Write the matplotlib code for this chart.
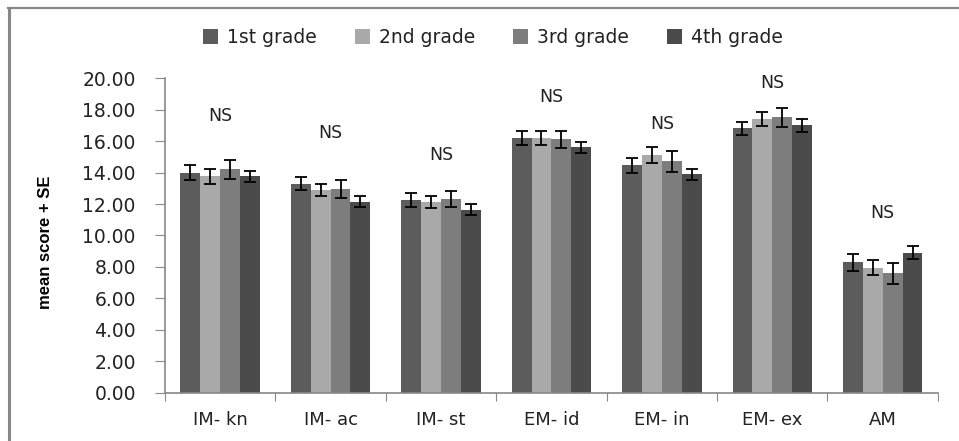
import numpy as np
import matplotlib.pyplot as plt
from matplotlib.lines import Line2D

# mean scores and standard errors per motivation scale and grade
categories = ['IM- kn', 'IM- ac', 'IM- st', 'EM- id', 'EM- in', 'EM- ex', 'AM']
grades = ['1st grade', '2nd grade', '3rd grade', '4th grade']

mean_1st = [14.0, 13.3, 12.25, 16.2, 14.45, 16.8, 8.3]
mean_2nd = [13.75, 12.9, 12.1, 16.2, 15.1, 17.4, 7.95]
mean_3rd = [14.2, 12.95, 12.3, 16.1, 14.7, 17.5, 7.6]
mean_4th = [13.75, 12.15, 11.65, 15.6, 13.9, 17.0, 8.9]

se_1st = [0.48, 0.4, 0.42, 0.45, 0.5, 0.42, 0.55]
se_2nd = [0.47, 0.4, 0.38, 0.45, 0.5, 0.42, 0.47]
se_3rd = [0.6, 0.55, 0.5, 0.55, 0.65, 0.6, 0.65]
se_4th = [0.35, 0.35, 0.35, 0.35, 0.35, 0.4, 0.42]

sig_labels = ['NS'] * 7
sig_y = [17.6, 16.5, 15.1, 18.8, 17.1, 19.7, 11.45]

colors = ['#5c5c5c', '#a9a9a9', '#7d7d7d', '#4b4b4b']

means = [mean_1st, mean_2nd, mean_3rd, mean_4th]
errors = [se_1st, se_2nd, se_3rd, se_4th]

fig = plt.figure(figsize=(9.59, 4.41), dpi=100)
ax = fig.add_axes([0.172, 0.109, 0.806, 0.714])

x = np.arange(len(categories))
width = 0.18
for i, (m, e) in enumerate(zip(means, errors)):
    pos = x + (i - 1.5) * width
    ax.bar(pos, m, width, color=colors[i], label=grades[i], zorder=2)
    ax.errorbar(pos, m, yerr=e, fmt='none', ecolor='black',
                elinewidth=1.3, capsize=4.5, capthick=1.3, zorder=3)

for xi, lab, yy in zip(x, sig_labels, sig_y):
    ax.text(xi, yy, lab, ha='center', va='center', fontsize=12.5,
            color='#222222')

ax.set_xlim(-0.5, len(categories) - 0.5)
ax.set_ylim(0, 20)
ax.set_yticks(np.arange(0, 20.1, 2))
ax.set_yticklabels([f'{v:.2f}' for v in np.arange(0, 20.1, 2)])

# category names centered, tick marks on the group boundaries
ax.set_xticks(np.arange(-0.5, len(categories)), minor=False)
ax.set_xticklabels([])
ax.set_xticks(x, minor=True)
ax.set_xticklabels(categories, minor=True, fontsize=13, color='#222222')
ax.tick_params(axis='x', which='minor', length=0, pad=13)
ax.tick_params(axis='x', which='major', length=6, color='#888888')
ax.tick_params(axis='y', length=7, color='#888888', labelsize=13.5,
               labelcolor='#222222', pad=14)

for s in ['top', 'right']:
    ax.spines[s].set_visible(False)
for s in ['left', 'bottom']:
    ax.spines[s].set_color('#888888')
    ax.spines[s].set_linewidth(1.2)

ax.set_ylabel('mean score + SE', fontsize=12, fontweight='bold',
              family='Liberation Sans', labelpad=8)
ax.yaxis.set_label_coords(-0.145, 0.48)

fig.legend(loc='center', bbox_to_anchor=(0.514, 0.915), ncol=4,
           frameon=False, fontsize=13.5, handlelength=0.8, handleheight=0.8,
           handletextpad=0.5, columnspacing=2.0,
           labelcolor='#222222')

# outer border lines of the chart area
fig.add_artist(Line2D([8 / 959, 1], [1 - 7.5 / 441] * 2,
                      transform=fig.transFigure, color='#888888', lw=1.6))
fig.add_artist(Line2D([9 / 959] * 2, [0, 1 - 7.5 / 441],
                      transform=fig.transFigure, color='#888888', lw=2.2))

fig.savefig('out.png', dpi=100)
